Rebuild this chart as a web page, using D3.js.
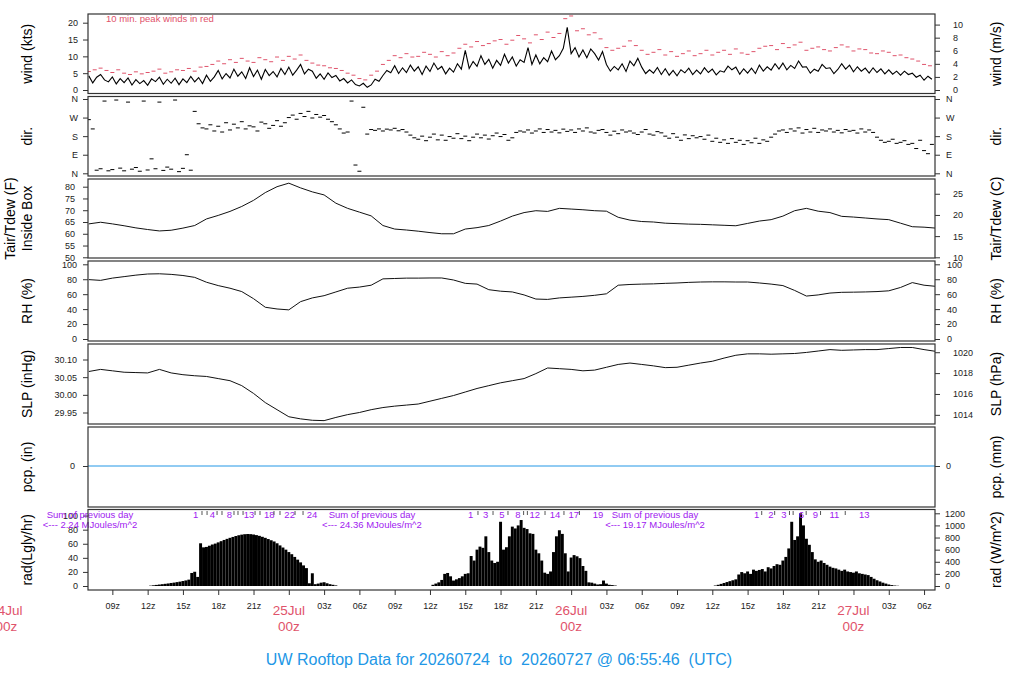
<!DOCTYPE html>
<html>
<head>
<meta charset="utf-8">
<script src="https://cdn.jsdelivr.net/npm/d3@7"></script>
<style>
  body { margin: 0; background: #fff; }
  text { font-family: "Liberation Sans", Arial, Helvetica, sans-serif; }
</style>
</head>
<body>
<div id="chart"></div>
<script>
// all times are hours after 2026-07-24 00z
const tStart = 6.93, tEnd = 78.93;

// wind speed (kts), every 20 min from 07z
const windStart = 7.0, windStep = 1 / 3;
const windKts = [
  4.2,2.1,3.8, 4.6,3.0,2.4, 3.9,1.8,3.4, 2.2,3.6,1.5, 3.1,1.9,2.8, 1.4,3.3,2.5, 3.8,1.7,3.2, 2.0,3.5,1.6,
  3.3,2.2,4.0, 2.4,3.7,1.9, 4.4,2.6,3.9, 5.8,3.3,4.9, 3.6,6.2,4.1, 5.4,3.4,6.6, 4.0,5.9,3.2, 6.1,4.3,5.5,
  3.9,6.4,4.6, 6.8,4.4,5.9, 7.6,4.8,6.2, 5.6,3.5,4.8, 3.2,5.1,3.7, 4.3,2.7,3.4, 2.1,3.0,1.6, 1.2,2.0,0.8,
  1.5,3.2,2.6, 4.3,5.8,5.1, 7.2,4.9,6.6, 5.2,7.4,5.6, 6.9,4.6,7.1, 5.5,8.0,6.1, 7.0,4.8,6.5, 5.3,7.8,6.2,
  11.8,6.4,8.5, 7.0,10.2,7.6, 9.1,6.5,8.8, 7.3,10.6,8.0, 9.8,7.1,9.0, 8.2,12.6,7.6, 10.4,7.8,9.6, 8.4,11.6,9.0,
  10.2,12.4,18.6, 10.8,12.6,9.8, 11.9,9.6,12.2, 10.8,8.9,11.4, 7.6,5.6,7.0, 6.0,7.8,5.5, 8.6,7.2,9.4, 6.8,4.9,6.0,
  5.0,6.7,4.6, 6.3,4.4,5.8, 4.2,6.0,5.1, 6.5,4.6,5.9, 4.8,6.6,5.2, 6.2,4.5,5.7, 5.3,7.1,6.0, 6.8,4.7,6.3,
  5.0,6.5,4.9, 7.4,5.6,6.9, 5.9,7.8,6.2, 8.0,6.0,7.3, 6.4,8.6,6.8, 6.9,5.0,6.2, 5.6,7.6,6.4, 6.6,4.9,6.1,
  7.8,6.2,7.4, 5.4,6.9,5.6, 6.5,5.0,6.6, 5.2,6.3,4.8, 6.0,4.7,5.6, 4.4,5.6,4.6, 5.0,3.8,4.4, 2.9,4.1,3.2
];

// 10 min peak winds (kts), every 30 min from 07z
const gustStart = 7.0, gustStep = 0.5;
const gustKts = [
  5.5,6.0, 6.5,5.8, 5.2,6.0, 5.0,4.6, 5.4,4.8, 5.2,5.6, 6.2,5.0, 5.4,6.0, 5.8,6.4, 5.6,6.8,
  7.0,7.6, 8.6,7.8, 9.0,8.2, 9.4,8.6, 8.2,9.6, 9.0,8.4, 9.8,8.8, 10.0,9.2, 10.4,8.8, 8.0,7.4,
  7.2,6.6, 6.4,5.8, 5.0,4.4, 3.4,3.0, 4.4,5.6, 7.6,8.8, 10.2,9.6, 10.8,9.8, 10.0,11.2, 10.6,9.8,
  11.4,10.2, 11.0,12.4, 13.6,12.8, 14.4,13.2, 13.8,14.6, 15.0,13.6, 14.8,16.2, 15.2,14.0, 16.4,15.0, 17.2,15.6,
  16.8,21.2, 22.0,17.6, 18.2,16.4, 17.0,15.2, 12.6,11.8, 12.4,13.0, 14.6,13.2, 11.8,10.6, 11.2,12.0, 10.4,11.4,
  10.0,10.8, 11.6,10.2, 10.8,11.8, 10.4,11.2, 11.8,10.6, 12.2,11.0, 10.6,11.4, 12.4,13.0, 13.2,12.0, 13.8,12.6,
  13.4,14.2, 11.8,12.4, 12.8,12.0, 11.6,12.6, 13.4,12.8, 11.6,12.2, 12.0,11.0, 10.8,11.6, 11.2,10.2, 10.4,9.6,
  9.2,8.6, 7.6,7.2
];

// wind direction (deg), every 20 min from 07z
const dirStart = 7.0, dirStep = 1 / 3;
const dirDeg = [
  260,215,15, 22,350,12, 18,355,25, 12,345,20, 28,10,350, 16,70,22, 345,14,30, 20,355,8, 24,90,15,
  300,240,220, 215,235,205, 228,200,245, 210,238,220, 250,215,230, 225,205,248, 240,218,232, 255,228,245,
  270,282,262, 290,275,300, 268,285,272, 280,262,250, 235,215,195, 200,350,40, 10,320,190, 212,208,215,
  205,214,210, 218,206,212, 200,185,172, 165,180,158, 175,190,162, 185,160,178, 170,192,168, 180,158,175,
  190,172,185, 166,182,195, 178,188,160, 172,198,205, 200,210,195, 205,215,198, 212,200,208, 196,214,203,
  210,198,215, 205,220,200, 195,208,212, 198,185,204, 192,210,200, 205,195,188, 200,212,190, 185,202,196,
  180,170,192, 175,160,186, 168,182,172, 178,165,185, 155,170,150, 162,145,168, 150,160,140, 158,148,170,
  145,162,155, 175,190,205, 210,198,215, 205,220,195, 212,200,218, 198,210,205, 215,200,208, 196,212,204,
  208,195,215, 200,210,198, 175,160,150, 155,165,145, 150,158,140, 145,120,160, 110,95,140
];

// hourly values from 07z
const hourStart = 7.0, hourStep = 1;
const tempF = [
  64.2,64.9,64.2,63.4,62.5,61.8,61.2,61.5,62.4,63.5, 66.3,67.8,69.5,71.6,74.2,77.5,80.0,81.5,79.5,77.8,
  76.5,73.0,70.8,69.2,67.6,63.5,62.0,61.6,61.1,60.5, 60.0,60.0,62.0,62.6,63.5,65.4,67.5,69.0,69.8,69.5,
  70.8,70.5,70.2,69.8,69.6,67.0,65.8,65.2,65.0,64.5, 64.3,64.1,64.0,63.8,63.6,63.4,64.4,65.4,66.0,67.5,
  69.8,70.8,69.6,69.0,67.4,67.1,66.7,66.3,66.0,64.5, 63.0,62.8,62.4
];
const rhPct = [
  79.5,78.5,81.5,83.5,85.5,87,87.3,86.5,85,82.5, 76,71.5,68,63.5,54,42.5,40.2,39,50,55,
  58,63,68,69.5,72,80.5,81,81.5,81.5,81.7, 81.7,79,74.5,73.5,66,64,63,59,53.5,53,
  55,56,57,58.5,60.5,72,73,73.5,73.8,74.5, 75,75.8,76.3,76.5,76.5,76.3,76.3,75,73.5,71.5,
  65,57.5,59,61.5,62.5,62.7,63,63.5,64.5,69, 75.5,72,70.5
];
const slpInHg = [
  30.066,30.072,30.068,30.064,30.063,30.062,30.072,30.062,30.057,30.054,
  30.052,30.046,30.040,30.026,30.004,29.978,29.958,29.938,29.932,29.928,
  29.927,29.936,29.944,29.950,29.958,29.964,29.968,29.971,29.974,29.982,
  29.990,29.998,30.008,30.018,30.026,30.034,30.040,30.046,30.060,30.076,
  30.074,30.072,30.068,30.070,30.078,30.086,30.090,30.086,30.082,30.077,
  30.078,30.084,30.090,30.095,30.104,30.112,30.116,30.116,30.115,30.116,
  30.117,30.120,30.124,30.128,30.126,30.127,30.128,30.128,30.131,30.134,
  30.134,30.128,30.123
];

// precipitation (in)
const pcpTimes = [6.93, 78.93];
const pcpIn = [0, 0];

// solar radiation (W/m^2), every 15 min, one array per day
const radStep = 0.25;
const radDays = [
  { start: 12.0, values: [0,6,12,18, 24,30,36,42, 50,56,64,72, 82,92,105,215, 235,150,705,638,
      645,665,685,700, 720,740,760,778, 795,810,825,838, 848,855,858,856, 850,840,828,812,
      795,775,755,735, 705,670,635,600, 560,525,480,435, 390,340,295,45, 210,30,40,55, 62,45,30,20, 10,0] },
  { start: 36.0, values: [0,20,40,60, 100,200,215,160, 90,110,130,160, 200,210,495,420, 600,650,630,820,
      560,420,380,400, 1060,600,640,820, 980,950,1000,1089, 960,940,870,860, 600,540,420,220,
      200,240,560,820, 920,860,540,240, 470,510,490,460, 330,250,60,55, 40,25,30,90, 40,20,15,8, 0] },
  { start: 60.0, values: [0,8,20,35, 50,65,80,95, 110,190,230,210, 240,200,270,250, 265,280,240,310,
      290,330,360,350, 420,480,620,1060, 760,820,1200,1000, 780,680,560,440, 400,420,380,350,
      320,300,290,270, 250,270,240,230, 220,240,210,200, 190,180,150,120, 95,75,55,40, 25,15,8,4, 0] }
];
const radSumTimes = [7.1, 31.07, 55.13];
const radSumMJ = ["2.24", "24.36", "19.17"];
const radHourTimes = [16.09,17.5,18.94,20.62,22.34,24.07,25.97,
  39.46,40.74,42.11,43.48,44.91,46.63,48.22,50.28,
  63.76,64.99,66.08,67.58,68.76,70.38,72.92];
const radHourLabels = ["1","4","8","13","18","22","24",
  "1","3","5","8","12","14","17","19",
  "1","2","3","6","9","11","13"];
const radMinorTimes = [16.62,17.05,17.9,18.32,19.34,19.68,20.11,21.13,21.55,22.74,23.25,24.53,25.21,
  40.08,41.36,42.63,43.96,44.28,45.78,47.39,48.7,
  64.2,65.3,66.56,66.87,67.98,69.2,71.3];

// axis ticks
const xTickHours = [9,12,15,18,21,24,27,30,33,36,39,42,45,48,51,54,57,60,63,66,69,72,75,78];
const xTickLabels = ["09z","12z","15z","18z","21z","","03z","06z","09z","12z","15z","18z","21z","","03z","06z",
  "09z","12z","15z","18z","21z","","03z","06z"];
const dateHours = [0, 24, 48, 72];
const dateLabels = ["24Jul", "25Jul", "26Jul", "27Jul"];
const windTicks = [0,5,10,15,20], windMsTicks = [0,2,4,6,8,10];
const dirTicks = [0,90,180,270,360], dirLabels = ["N","E","S","W","N"];
const tempTicks = [50,55,60,65,70,75,80], tempCTicks = [10,15,20,25];
const rhTicks = [0,20,40,60,80,100];
const slpTicks = [29.95,30.00,30.05,30.10], slpHpaTicks = [1014,1016,1018,1020];
const pcpTicks = [0];
const radLgTicks = [0,20,40,60,80,100], radWTicks = [0,200,400,600,800,1000,1200];

const red = "#DF536B", blue = "#2297E6", purple = "#A020F0";

const svg = d3.select("#chart").append("svg").attr("width", 1024).attr("height", 700);
const plotL = 88, plotR = 935;
const x = d3.scaleLinear().domain([tStart, tEnd]).range([plotL, plotR]);

const frames = [[14, 93.5], [96.5, 176], [179, 258], [261, 341], [344, 424], [427, 507], [509.5, 590]];

const yWind = d3.scaleLinear().domain([0, 20]).range([90, 22.7]);
const yWindMs = d3.scaleLinear().domain([0, 20 / 1.94384]).range([90, 22.7]);
const yDir = d3.scaleLinear().domain([0, 360]).range([173.3, 99]);
const yTemp = d3.scaleLinear().domain([50, 80]).range([257.3, 186.7]);
const yTempC = d3.scaleLinear().domain([10, (80 - 32) * 5 / 9]).range([257.3, 186.7]);
const yRH = d3.scaleLinear().domain([0, 100]).range([339, 264.3]);
const ySLP = d3.scaleLinear().domain([29.95, 30.10]).range([412.5, 359.5]);
const ySLPhPa = d3.scaleLinear().domain([29.95 * 33.8639, 30.10 * 33.8639]).range([412.5, 359.5]);
const yPcp = d3.scaleLinear().domain([-1, 1]).range([506, 426]);
const yRad = d3.scaleLinear().domain([0, 1200]).range([586, 513.3]);
const yRadLg = d3.scaleLinear().domain([0, 1200 / 11.622]).range([586, 513.3]);

// clip paths so data stays inside each frame
const defs = svg.append("defs");
frames.forEach((f, i) => {
  defs.append("clipPath").attr("id", "clip" + i)
    .append("rect").attr("x", plotL).attr("y", f[0]).attr("width", plotR - plotL).attr("height", f[1] - f[0]);
});
const layer = i => svg.append("g").attr("clip-path", `url(#clip${i})`);

// axes helpers
const intFmt = d3.format("d"), slpFmt = d3.format(".2f");
function sideAxis(scale, ticks, format, side, pad) {
  const ax = side === "left" ? d3.axisLeft(scale) : d3.axisRight(scale);
  ax.tickValues(ticks).tickSize(5).tickPadding(pad).tickFormat(format);
  const g = svg.append("g")
    .attr("transform", `translate(${side === "left" ? plotL : plotR},0)`)
    .call(ax);
  g.select(".domain").remove();
  g.attr("font-family", null).attr("font-size", null);
  g.selectAll("text").style("font-size", "9px").attr("fill", "#222");
  g.selectAll("line").attr("stroke", "#333");
}
const dirFmt = (d, i) => dirLabels[i];

sideAxis(yWind, windTicks, intFmt, "left", 5);
sideAxis(yWindMs, windMsTicks, intFmt, "right", 13);
sideAxis(yDir, dirTicks, dirFmt, "left", 5);
sideAxis(yDir, dirTicks, dirFmt, "right", 6);
sideAxis(yTemp, tempTicks, intFmt, "left", 8);
sideAxis(yTempC, tempCTicks, intFmt, "right", 13);
sideAxis(yRH, rhTicks, intFmt, "left", 6);
sideAxis(yRH, rhTicks, intFmt, "right", 7);
sideAxis(ySLP, slpTicks, slpFmt, "left", 6);
sideAxis(ySLPhPa, slpHpaTicks, intFmt, "right", 13);
sideAxis(yPcp, pcpTicks, intFmt, "left", 8);
sideAxis(yPcp, pcpTicks, intFmt, "right", 6);
sideAxis(yRadLg, radLgTicks, intFmt, "left", 5);
sideAxis(yRad, radWTicks, intFmt, "right", 5);

// bottom time axis
const xg = svg.append("g").attr("transform", `translate(0,${frames[6][1]})`)
  .call(d3.axisBottom(x).tickValues(xTickHours).tickSize(5).tickPadding(8)
    .tickFormat((d, i) => xTickLabels[i]));
xg.select(".domain").remove();
xg.attr("font-family", null).attr("font-size", null);
xg.selectAll("text").style("font-size", "9px").attr("fill", "#222");
xg.selectAll("line").attr("stroke", "#333");

dateHours.forEach((h, i) => {
  const t = svg.append("text").attr("x", x(h)).attr("text-anchor", "middle")
    .attr("fill", red).style("font-size", "13.5px");
  t.append("tspan").attr("x", x(h)).attr("y", 615).text(dateLabels[i]);
  t.append("tspan").attr("x", x(h)).attr("y", 631).text("00z");
});

// wind panel
const gW = layer(0);
gW.append("path")
  .datum(windKts)
  .attr("fill", "none").attr("stroke", "#000").attr("stroke-width", 1.1)
  .attr("d", d3.line().x((d, i) => x(windStart + i * windStep)).y(d => yWind(d)));
gW.selectAll(".gust").data(gustKts).join("line")
  .attr("x1", (d, i) => x(gustStart + i * gustStep) - 2)
  .attr("x2", (d, i) => x(gustStart + i * gustStep) + 2)
  .attr("y1", d => yWind(d)).attr("y2", d => yWind(d))
  .attr("stroke", red).attr("stroke-width", 1);
svg.append("text").attr("x", 106).attr("y", 22).attr("fill", red)
  .style("font-size", "9.5px").text("10 min. peak winds in red");

// direction panel
layer(1).selectAll(".dir").data(dirDeg).join("line")
  .attr("x1", (d, i) => x(dirStart + i * dirStep) - 2)
  .attr("x2", (d, i) => x(dirStart + i * dirStep) + 2)
  .attr("y1", d => yDir(d)).attr("y2", d => yDir(d))
  .attr("stroke", "#000").attr("stroke-width", 1);

// hourly lines
function hourLine(i, data, y) {
  layer(i).append("path").datum(data)
    .attr("fill", "none").attr("stroke", "#111").attr("stroke-width", 1)
    .attr("d", d3.line().x((d, k) => x(hourStart + k * hourStep)).y(d => y(d)));
}
hourLine(2, tempF, yTemp);
hourLine(3, rhPct, yRH);
hourLine(4, slpInHg, ySLP);

// precipitation
layer(5).append("path").datum(pcpIn)
  .attr("fill", "none").attr("stroke", blue).attr("stroke-width", 1)
  .attr("d", d3.line().x((d, k) => x(pcpTimes[k])).y(d => yPcp(d)));

// radiation bars
const gR = layer(6);
const bw = x(radStep) - x(0);
radDays.forEach(day => {
  gR.selectAll(null).data(day.values).join("rect")
    .attr("x", (d, i) => x(day.start + i * radStep) - bw / 2)
    .attr("width", bw)
    .attr("y", d => yRad(d))
    .attr("height", d => yRad(0) - yRad(d))
    .attr("fill", "#000");
});
radSumTimes.forEach((h, i) => {
  svg.append("text").attr("x", x(h)).attr("y", 518).attr("text-anchor", "middle")
    .attr("fill", purple).style("font-size", "9.5px").text("Sum of previous day");
  svg.append("text").attr("x", x(h)).attr("y", 528).attr("text-anchor", "middle")
    .attr("fill", purple).style("font-size", "9.5px").text(`<--- ${radSumMJ[i]} MJoules/m^2`);
});
svg.selectAll(".rh").data(radHourTimes).join("text")
  .attr("x", d => x(d)).attr("y", 518).attr("text-anchor", "middle")
  .attr("fill", purple).style("font-size", "9.5px")
  .text((d, i) => radHourLabels[i]);
svg.selectAll(".rm").data(radMinorTimes).join("line")
  .attr("x1", d => x(d)).attr("x2", d => x(d))
  .attr("y1", 511).attr("y2", 515)
  .attr("stroke", "#555").attr("stroke-width", 1);

// frames
frames.forEach(f => {
  svg.append("rect").attr("x", plotL).attr("y", f[0])
    .attr("width", plotR - plotL).attr("height", f[1] - f[0])
    .attr("fill", "none").attr("stroke", "#333").attr("stroke-width", 1.2);
});

// panel titles
const leftTitles = [["wind (kts)"], ["dir."], ["Tair/Tdew (F)", "Inside Box"], ["RH (%)"],
  ["SLP (inHg)"], ["pcp. (in)"], ["rad(Lgly/hr)"]];
const rightTitles = ["wind (m/s)", "dir.", "Tair/Tdew (C)", "RH (%)", "SLP (hPa)", "pcp. (mm)", "rad (W/m^2)"];
function vText(tx, ty, s) {
  svg.append("text").attr("transform", `translate(${tx},${ty}) rotate(-90)`)
    .attr("text-anchor", "middle").attr("fill", "#000").style("font-size", "14px").text(s);
}
frames.forEach((f, i) => {
  const cy = (f[0] + f[1]) / 2;
  const lines = leftTitles[i];
  if (lines.length === 2) { vText(15, cy, lines[0]); vText(32, cy, lines[1]); }
  else vText(32, cy, lines[0]);
  vText(1001, cy, rightTitles[i]);
});

// title
svg.append("text").attr("x", 499).attr("y", 665).attr("text-anchor", "middle")
  .attr("fill", blue).style("font-size", "16px").style("white-space", "pre")
  .text("UW Rooftop Data for 20260724  to  20260727 @ 06:55:46  (UTC)");
</script>
</body>
</html>
